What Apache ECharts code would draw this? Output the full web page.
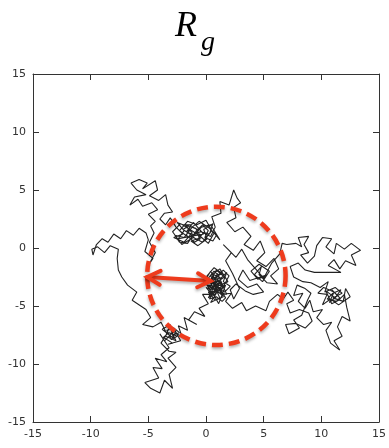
<!DOCTYPE html>
<html>
<head>
<meta charset="utf-8">
<script src="https://cdn.jsdelivr.net/npm/echarts@6/dist/echarts.min.js"></script>
<style>
  html, body { margin: 0; padding: 0; background: #fff; }
  #chart { width: 389px; height: 448px; }
</style>
</head>
<body>
<div id="chart"></div>
<script>
// axis ticks
const tickValues = [-15, -10, -5, 0, 5, 10, 15]

// random walk, split in pieces (each piece continues where the previous ended)
const walkRight = [
  [7.0, 0.3], [7.8, 0.4], [8.3, 0.1], [8.0, 0.9], [8.9, 1.0], [8.5, 0.3], [8.9, -0.4], [8.2, -0.6],
  [8.8, -1.3], [9.4, -0.7], [9.6, 0.2], [10.1, 0.9], [10.9, 0.8], [10.4, 0.1], [11.1, -0.5], [11.3, 0.4],
  [12.0, -0.1], [12.6, 0.4], [13.4, -0.2], [12.6, -0.6], [13.0, -1.5], [12.1, -1.1], [11.6, -1.8], [11.1, -1.0],
  [10.6, -1.5], [11.7, -2.1], [10.6, -2.1], [9.4, -2.1], [8.6, -1.9], [8.0, -1.3], [7.3, -1.6], [7.6, -2.5],
  [8.4, -2.9], [9.1, -3.0], [9.9, -3.4], [10.6, -2.9], [10.3, -3.8], [11.2, -3.4], [11.8, -3.9], [11.0, -4.3],
  [11.9, -4.6], [12.1, -3.5], [12.5, -4.2], [11.5, -4.9], [10.8, -4.4], [10.1, -4.9], [10.5, -4.0], [9.7, -3.9],
  [10.2, -3.4], [11.1, -3.8], [10.7, -4.7], [11.4, -4.1], [10.9, -3.6], [11.6, -4.3], [11.3, -4.6], [10.5, -4.4],
  [11.0, -3.9], [11.7, -3.6], [11.2, -4.3], [10.4, -3.7], [10.9, -4.8], [11.5, -4.5], [12.0, -4.0],
  [12.2, -5.1], [12.5, -6.3],
  [11.8, -5.9], [11.4, -6.8], [11.8, -7.6], [11.1, -8.0], [11.6, -8.8], [10.8, -8.2], [10.4, -7.1], [10.9, -6.4],
  [10.2, -6.6], [9.6, -6.0], [10.1, -5.3], [9.3, -5.5], [9.0, -4.5], [8.6, -5.2], [8.0, -4.6], [8.4, -3.9],
  [7.6, -4.1], [7.9, -3.2], [8.6, -3.5], [9.1, -3.9], [8.8, -4.5], [8.3, -5.8], [7.6, -6.2], [8.1, -6.9],
  [7.2, -7.4], [6.9, -6.6], [7.8, -6.5], [8.6, -6.9], [9.2, -6.3], [8.9, -5.6], [8.1, -5.3], [7.3, -5.6],
  [7.0, -4.8], [7.6, -4.5], [7.1, -3.8], [6.7, -4.4]
]
const walkMiddleLow = [
  [6.2, -4.0], [5.5, -4.6], [5.2, -5.4], [4.3, -5.0], [3.5, -5.4], [3.1, -4.7], [2.3, -5.2], [1.7, -4.6],
  [2.2, -3.9], [1.3, -4.0]
]
const walkCenter = [
  [0.6, -3.4], [1.1, -2.6], [0.3, -2.9], [0.9, -1.9], [1.6, -2.5], [0.7, -3.1], [1.4, -3.6], [0.2, -3.8],
  [0.8, -4.5], [1.5, -4.2], [0.4, -2.4], [1.2, -1.8], [1.9, -2.9], [1.0, -3.3], [0.1, -3.2], [0.6, -4.1],
  [1.7, -3.2], [1.1, -4.8], [0.5, -3.7], [1.8, -4.0], [1.0, -2.2], [0.3, -3.5], [1.3, -3.0], [0.8, -2.6],
  [1.5, -1.9], [2.0, -2.4], [1.2, -3.9], [-0.2, -3.0], [0.4, -2.0], [0.9, -2.9], [0.2, -4.3], [1.0, -3.6],
  [0.5, -2.7], [1.4, -2.2], [0.7, -1.7], [0.0, -2.5], [0.6, -3.0], [1.2, -4.3], [0.4, -4.7],
  [0.9, -3.9], [0.5, -3.3], [1.1, -3.1], [0.8, -3.7], [1.4, -3.3], [1.0, -2.8], [0.4, -3.1], [0.7, -2.3],
  [1.3, -2.6], [1.8, -2.1], [1.5, -2.9], [2.1, -3.3], [1.6, -3.8], [1.1, -3.5], [0.6, -3.9], [0.3, -4.4],
  [0.9, -4.2], [1.4, -4.6], [1.7, -4.3], [1.3, -3.7], [0.8, -3.2], [0.2, -2.6], [0.7, -2.0], [1.1, -2.4],
  [0.6, -2.8], [1.6, -3.5], [1.2, -2.9], [0.4, -3.6], [0.0, -3.4], [0.5, -4.0], [-0.3, -4.0]
]
const walkLowerLeft = [
  [0.2, -4.8], [-0.6, -5.2], [-0.1, -5.9], [-1.0, -5.5], [-1.5, -6.2], [-0.8, -6.6], [-1.9, -6.0], [-1.6, -7.1],
  [-2.4, -6.7], [-2.1, -7.6], [-3.0, -7.2], [-2.6, -8.0], [-3.5, -7.6], [-3.1, -6.6], [-3.8, -7.0], [-2.8, -7.8],
  [-2.9, -7.5], [-2.3, -7.3], [-2.8, -6.9], [-3.4, -7.1], [-3.0, -7.9], [-2.5, -7.6], [-3.2, -7.3], [-3.7, -7.7],
  [-2.9, -8.2],
  [-3.3, -8.3], [-2.2, -8.0], [-2.7, -7.1], [-3.6, -8.0], [-4.0, -7.4], [-3.2, -8.6], [-3.9, -9.2], [-3.4, -9.8],
  [-4.4, -9.5], [-3.8, -10.4], [-4.6, -10.3], [-4.1, -11.2], [-5.3, -11.6], [-4.8, -12.1], [-4.0, -12.5], [-3.6, -11.4],
  [-2.9, -12.1], [-3.2, -10.9], [-2.6, -10.3], [-3.3, -9.5], [-2.6, -9.0], [-3.2, -8.9], [-3.9, -8.2], [-3.4, -7.4],
  [-3.9, -6.4], [-4.6, -6.8], [-5.5, -6.6], [-4.8, -6.0], [-5.2, -5.3], [-6.4, -4.5], [-6.0, -3.8], [-6.8, -3.2],
  [-7.3, -2.5], [-7.6, -1.9], [-7.7, -0.9], [-7.6, -0.1]
]
const walkLeftArm = [
  [-8.3, 0.2], [-8.8, -0.4], [-9.4, 0.1], [-9.9, -0.1], [-9.8, -0.6], [-9.5, 0.3], [-9.0, 0.8], [-8.5, 0.5],
  [-8.0, 1.2], [-7.4, 0.8], [-6.9, 1.5], [-6.3, 1.1], [-5.8, 1.7], [-5.2, 1.3], [-5.0, 0.7], [-5.3, -0.3],
  [-4.6, -0.9], [-5.0, -1.5], [-4.4, -0.4], [-4.9, 0.5], [-4.5, 1.3], [-4.8, 1.9]
]
const walkBlob = [
  [-4.4, 2.3], [-5.0, 2.9], [-4.2, 3.3], [-4.7, 3.9], [-5.5, 3.6], [-5.9, 4.2], [-6.6, 3.7], [-6.2, 4.4],
  [-5.2, 4.6], [-6.0, 5.0], [-6.5, 5.6], [-5.8, 5.9], [-5.1, 5.6], [-5.5, 5.1], [-4.4, 5.8], [-4.2, 5.0],
  [-4.9, 4.5], [-4.1, 4.1], [-3.5, 4.6], [-3.3, 3.7], [-2.9, 3.1], [-3.6, 3.0], [-4.0, 2.5], [-3.5, 2.0],
  [-3.1, 2.6]
]
const walkUpperCenter = [
  [-2.6, 1.8], [-2.0, 1.2], [-2.8, 0.9], [-1.9, 0.5], [-1.2, 1.3], [-1.8, 2.0], [-0.9, 1.7], [-0.4, 0.9],
  [-1.3, 0.6], [-0.7, 0.2], [0.1, 0.8], [-0.2, 1.6], [0.6, 2.1], [0.3, 1.2], [-0.5, 1.4], [-1.5, 0.9],
  [-2.3, 1.5], [-1.6, 2.3], [-0.8, 2.0], [0.0, 2.4], [0.5, 1.5], [-0.3, 0.5], [-1.1, 0.9], [-2.1, 0.3],
  [-2.9, 1.4], [-2.2, 2.1], [-1.4, 1.6], [-0.6, 1.1], [0.2, 0.4], [0.7, 1.3], [1.2, 0.7], [0.4, 2.0],
  [-0.4, 1.8], [-1.0, 1.1], [-1.7, 1.4], [-1.1, 2.2], [-0.2, 1.2],
  [-2.4, 0.8], [-1.9, 1.5], [-2.5, 2.2], [-2.0, 2.0], [-1.3, 2.0], [-1.7, 1.1], [-1.0, 0.5], [-0.5, 0.8],
  [-0.9, 1.4], [-0.3, 2.0], [0.2, 1.5], [-0.1, 0.9], [0.6, 0.6], [0.9, 1.1], [0.3, 1.7], [-0.6, 2.3],
  [-1.2, 1.8], [-1.9, 0.9], [-2.7, 1.1], [-2.3, 0.5], [-1.6, 0.4], [-1.2, 1.0], [-0.7, 1.6], [-1.5, 1.9],
  [-2.0, 1.6], [-1.4, 1.2], [-0.8, 0.7], [-0.2, 1.3], [0.4, 1.0], [0.8, 1.8], [0.5, 2.7]
]
const walkTopRight = [
  [1.3, 3.0], [1.2, 4.0], [2.0, 3.7], [2.4, 5.0], [2.7, 4.3], [3.0, 3.9], [2.4, 3.5], [2.6, 2.6],
  [1.8, 2.2], [2.5, 1.4], [3.2, 1.8], [3.9, 1.0], [3.3, 0.3], [4.1, -0.2], [4.7, 0.6], [5.1, -0.4],
  [4.4, -1.1], [5.2, -1.6], [5.9, -0.9], [6.3, -1.8], [5.6, -2.4], [6.2, -3.1], [5.3, -3.0], [4.6, -2.3],
  [4.8, -1.6], [4.2, -2.3], [4.9, -2.9], [5.5, -2.0], [4.6, -1.4], [3.9, -2.0], [4.5, -2.7], [5.3, -2.3],
  [3.8, -2.8], [3.2, -1.9], [2.8, -2.7], [3.6, -3.4], [4.4, -3.1], [5.0, -3.8], [4.1, -4.0], [3.4, -3.7],
  [2.6, -3.1], [2.1, -3.6], [2.4, -4.4], [2.9, -3.5], [2.3, -2.2], [1.7, -1.1], [2.2, -0.4], [1.5, 0.3],
  [2.6, -0.8], [3.1, -0.1], [3.6, -1.0], [4.3, -1.8], [5.0, -2.6], [5.7, -1.3], [6.4, -0.5], [6.6, 0.4],
  [7.0, 0.3]
]

// the R_g circle and the radius arrow
const circleCenter = [0.9, -2.4]
const circleRadius = 6.0
const arrowEnds = [[-5.1, -2.5, 0.4, -2.85]]

const walk = [].concat(walkRight, walkMiddleLow, walkCenter, walkLowerLeft,
  walkLeftArm, walkBlob, walkUpperCenter, walkTopRight)

const RED = '#ee3b1d'

function valueAxis(pos, showLabel) {
  return {
    type: 'value',
    position: pos,
    min: tickValues[0],
    max: tickValues[tickValues.length - 1],
    interval: 5,
    axisLine: { show: true, onZero: false, lineStyle: { color: '#333', width: 1 } },
    axisTick: { show: true, inside: true, length: 6, lineStyle: { color: '#333' } },
    axisLabel: {
      show: showLabel,
      color: '#333',
      fontSize: 11,
      fontFamily: 'DejaVu Sans',
      margin: 7,
      showMinLabel: true,
      showMaxLabel: true
    },
    splitLine: { show: false }
  }
}

const chart = echarts.init(document.getElementById('chart'), null, { renderer: 'canvas' })

const option = {
  animation: false,
  backgroundColor: '#fff',
  title: [
    {
      text: 'R',
      left: 170,
      top: 4,
      textStyle: { fontFamily: 'Liberation Serif', fontStyle: 'italic', fontWeight: 'normal', fontSize: 36, color: '#000' }
    },
    {
      text: 'g',
      left: 196,
      top: 24,
      textStyle: { fontFamily: 'Liberation Serif', fontStyle: 'italic', fontWeight: 'normal', fontSize: 28, color: '#000' }
    }
  ],
  grid: { left: 33, right: 8, top: 74, bottom: 26, containLabel: false },
  xAxis: [valueAxis('bottom', true), valueAxis('top', false)],
  yAxis: [valueAxis('left', true), valueAxis('right', false)],
  series: [
    {
      type: 'line',
      xAxisIndex: 0,
      yAxisIndex: 0,
      data: walk,
      showSymbol: false,
      symbol: 'none',
      lineStyle: { color: '#222', width: 1.1 },
      z: 2
    },
    {
      type: 'custom',
      xAxisIndex: 0,
      yAxisIndex: 0,
      data: [[circleCenter[0], circleCenter[1], circleRadius]],
      renderItem(params, api) {
        const c = api.coord([api.value(0), api.value(1)])
        const r = api.size([api.value(2), 0])[0]
        return {
          type: 'circle',
          shape: { cx: c[0], cy: c[1], r },
          style: {
            fill: 'none',
            stroke: RED,
            lineWidth: 4.5,
            lineDash: [11, 6],
            shadowBlur: 3,
            shadowColor: 'rgba(0,0,0,0.3)',
            shadowOffsetY: 2
          }
        }
      },
      z: 3
    },
    {
      type: 'custom',
      xAxisIndex: 0,
      yAxisIndex: 0,
      data: arrowEnds,
      renderItem(params, api) {
        const p1 = api.coord([api.value(0), api.value(1)])
        const p2 = api.coord([api.value(2), api.value(3)])
        const dx = p2[0] - p1[0]
        const dy = p2[1] - p1[1]
        const len = Math.sqrt(dx * dx + dy * dy)
        const ux = dx / len
        const uy = dy / len
        const nx = -uy
        const ny = ux
        const h = 13
        const w = 7
        const style = { stroke: RED, lineWidth: 4, fill: 'none', lineCap: 'round', lineJoin: 'miter',
          shadowBlur: 3, shadowColor: 'rgba(0,0,0,0.3)', shadowOffsetY: 2 }
        return {
          type: 'group',
          children: [
            { type: 'line', shape: { x1: p1[0], y1: p1[1], x2: p2[0], y2: p2[1] }, style },
            {
              type: 'polyline',
              shape: { points: [[p1[0] + ux * h + nx * w, p1[1] + uy * h + ny * w], p1, [p1[0] + ux * h - nx * w, p1[1] + uy * h - ny * w]] },
              style
            },
            {
              type: 'polyline',
              shape: { points: [[p2[0] - ux * h + nx * w, p2[1] - uy * h + ny * w], p2, [p2[0] - ux * h - nx * w, p2[1] - uy * h - ny * w]] },
              style
            }
          ]
        }
      },
      z: 4
    }
  ]
}

chart.setOption(option)
</script>
</body>
</html>
